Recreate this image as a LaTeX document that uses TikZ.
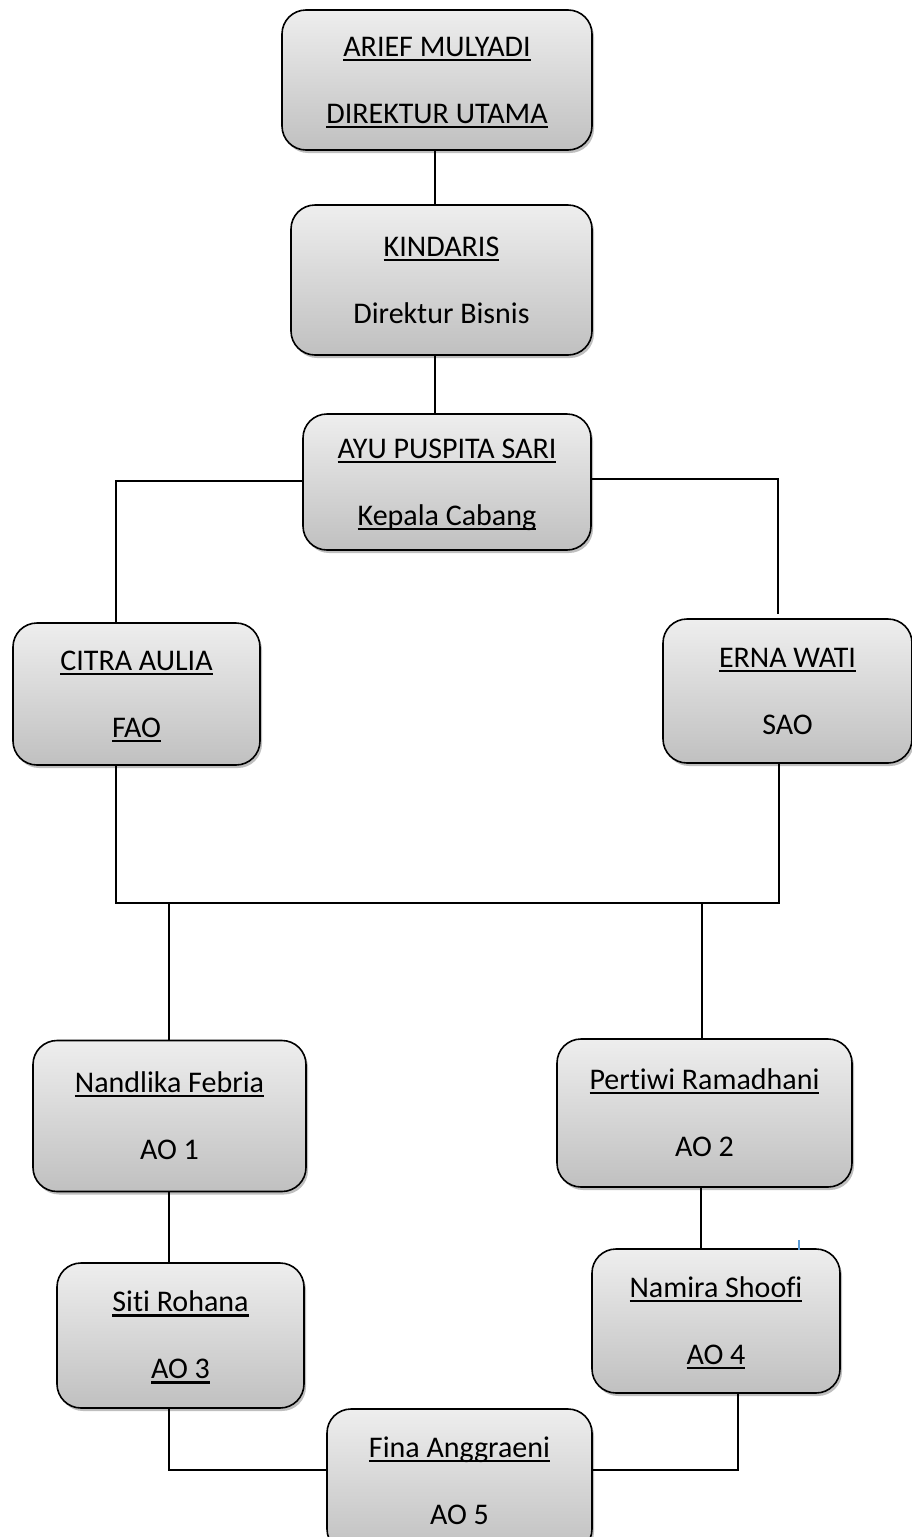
\documentclass[tikz,border=0pt]{standalone}
\usepackage{fontspec}
\setmainfont{Carlito}[Ligatures={NoCommon}]
\usetikzlibrary{shadows}
\definecolor{boxtop}{HTML}{EEEEEE}
\definecolor{boxbot}{HTML}{C0C0C0}
\definecolor{cursorblue}{HTML}{5B9BD5}
\newcommand\ulx[1]{\setbox0=\hbox{#1}\rlap{\rule[-5.2pt]{\wd0}{2.7pt}}\box0}
\newcommand\sx{\rule[-6pt]{0pt}{31pt}}
\begin{document}
\begin{tikzpicture}[x=1pt,y=-1pt,
  orgbox/.style={draw=black, line width=1.6pt, rounded corners=24pt,
    top color=boxtop, bottom color=boxbot, inner sep=0pt, align=center,
    font=\fontsize{30}{67}\selectfont,
    drop shadow={shadow xshift=2pt, shadow yshift=-3pt, opacity=0.25, fill=black}},
  link/.style={draw=black, line width=1.3pt}]
\useasboundingbox (0,0) rectangle (912,1537);

\node[orgbox, minimum width=310pt, minimum height=140pt] (a) at (437,80)
  {\sx\ulx{ARIEF MULYADI}\\\sx\ulx{DIREKTUR UTAMA}};
\node[orgbox, minimum width=301pt, minimum height=150pt] (b) at (441.5,280)
  {\sx\ulx{KINDARIS}\\\sx Direktur Bisnis};
\node[orgbox, minimum width=288pt, minimum height=136pt] (c) at (447,482)
  {\sx\ulx{AYU PUSPITA SARI}\\\sx\ulx{Kepala Cabang}};
\node[orgbox, minimum width=247pt, minimum height=142pt] (d) at (136.5,694)
  {\sx\ulx{CITRA AULIA}\\\sx\ulx{FAO}};
\node[orgbox, minimum width=249pt, minimum height=144pt] (e) at (787.5,691)
  {\sx\ulx{ERNA WATI}\\\sx SAO};
\node[orgbox, minimum width=273pt, minimum height=151pt] (f) at (169.5,1116)
  {\sx\ulx{Nandlika Febria}\\\sx AO 1};
\node[orgbox, minimum width=295pt, minimum height=148pt] (g) at (704.5,1113)
  {\sx\ulx{Pertiwi Ramadhani}\\\sx AO 2};
\node[orgbox, minimum width=247pt, minimum height=145pt] (h) at (180.5,1335.5)
  {\sx\ulx{Siti Rohana}\\\sx\ulx{AO 3}};
\node[orgbox, minimum width=248pt, minimum height=144pt] (i) at (716,1321)
  {\sx\ulx{Namira Shoofi}\\\sx\ulx{AO 4}};
\node[orgbox, minimum width=265pt, minimum height=144pt] (j) at (459.5,1481)
  {\sx\ulx{Fina Anggraeni}\\\sx AO 5};

% connectors
\draw[link] (a.south -| 435,0) -- (b.north -| 435,0);
\draw[link] (b.south -| 435,0) -- (c.north -| 435,0);
\draw[link] (c.west |- 0,481) -| (d.north -| 116,0);
\draw[link, shorten >=4pt] (c.east |- 0,479) -| (e.north -| 778,0);
\draw[link] (d.south -| 116,0) |- (0,903 -| 779,0) -- (e.south -| 779,0);
\coordinate (lft) at (169,903);
\coordinate (rgt) at (702,903);
\draw[link] (lft) -- (f.north -| lft);
\draw[link] (rgt) -- (g.north -| rgt);
\draw[link] (f.south -| 169,0) -- (h.north -| 169,0);
\draw[link] (g.south -| 701,0) -- (i.north -| 701,0);
\draw[link] (h.south -| 169,0) |- (j.west |- 0,1470);
\draw[link] (i.south -| 738,0) |- (j.east |- 0,1470);

% small cursor mark
\draw[cursorblue, line width=1.2pt] (799,1240) -- (799,1250);
\end{tikzpicture}
\end{document}
